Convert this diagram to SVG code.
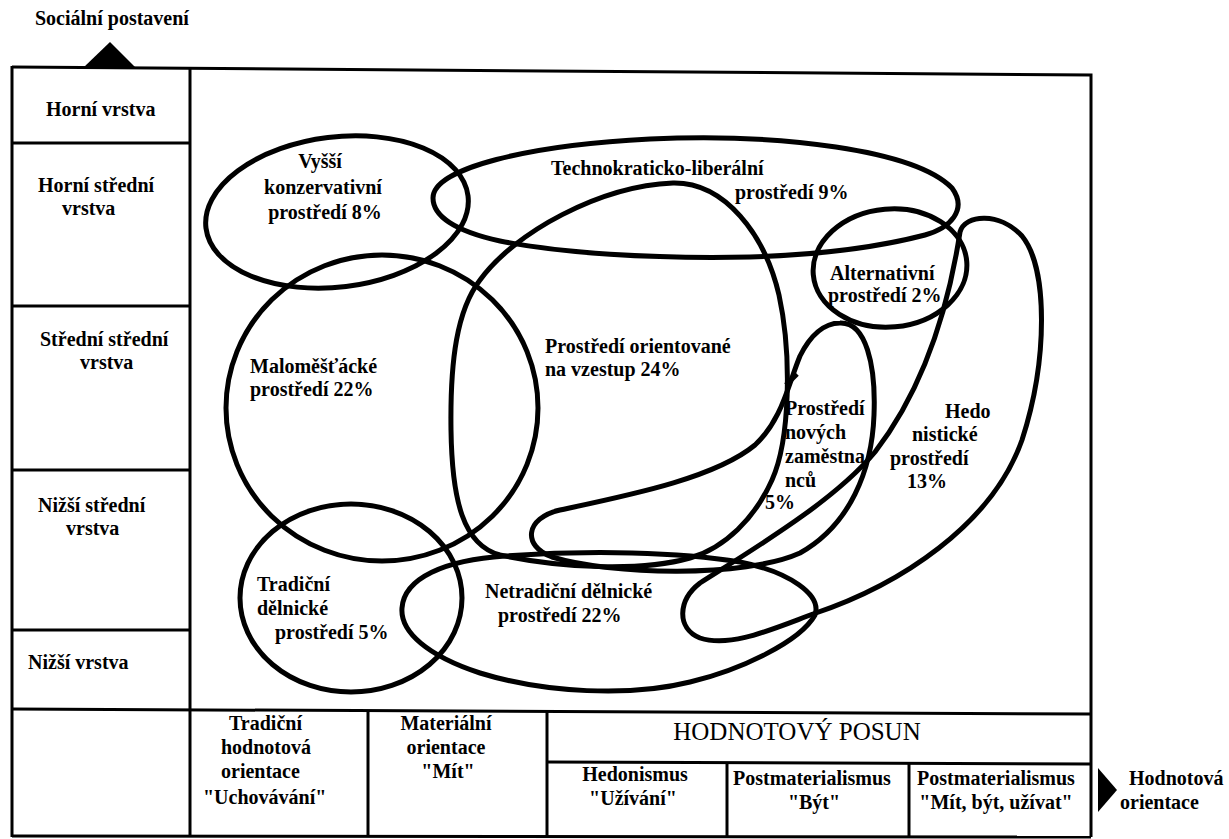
<svg xmlns="http://www.w3.org/2000/svg" width="1229" height="839" viewBox="0 0 1229 839">
<style>
.t{font-family:'Liberation Serif','DejaVu Serif',serif;font-weight:bold;font-size:20px;fill:#000}
.r{font-family:'Liberation Serif','DejaVu Serif',serif;font-size:25px;fill:#000}
.m{text-anchor:middle}
.ln{stroke:#000;stroke-width:3;fill:none}
.blob{stroke:#000;stroke-width:5;fill:none;stroke-linejoin:round}
</style>
<rect width="1229" height="839" fill="#fff"/>

<g id="frame" class="ln">
  <polyline points="12,67 1091,75 1091,837"/>
  <line x1="12" y1="66" x2="12" y2="837"/>
  <line x1="190" y1="68" x2="190" y2="837"/>
  <line x1="12" y1="143" x2="190" y2="143"/>
  <line x1="12" y1="306" x2="190" y2="306"/>
  <line x1="12" y1="470" x2="190" y2="470"/>
  <line x1="12" y1="630" x2="190" y2="630"/>
  <line x1="12" y1="709" x2="1091" y2="714"/>
  <line x1="12" y1="836" x2="1091" y2="837"/>
  <line x1="368" y1="711" x2="368" y2="837"/>
  <line x1="547" y1="712" x2="547" y2="837"/>
  <line x1="547" y1="762" x2="1091" y2="764"/>
  <line x1="727" y1="763" x2="727" y2="837"/>
  <line x1="909" y1="763" x2="909" y2="837"/>
</g>

<g id="axes">
  <polygon points="84,67 110,42 135,67" fill="#000"/>
  <polygon points="1098,768 1117,790 1098,812" fill="#000"/>
  <text class="t" x="35" y="25">Sociální postavení</text>
  <text class="t" x="1129" y="785">Hodnotová</text>
  <text class="t" x="1120" y="809">orientace</text>
</g>

<g id="rows">
  <g id="row-horni"><text class="t" x="46" y="116">Horní vrstva</text></g>
  <g id="row-horni-stredni"><text class="t" x="38" y="192">Horní střední</text><text class="t" x="62" y="215">vrstva</text></g>
  <g id="row-stredni-stredni"><text class="t" x="40" y="346">Střední střední</text><text class="t" x="80" y="369">vrstva</text></g>
  <g id="row-nizsi-stredni"><text class="t" x="38" y="512">Nižší střední</text><text class="t" x="66" y="535">vrstva</text></g>
  <g id="row-nizsi"><text class="t" x="28" y="669">Nižší vrstva</text></g>
</g>

<g id="values">
  <g id="val-tradicni">
    <text class="t" x="229" y="730">Tradiční</text>
    <text class="t" x="221" y="754">hodnotová</text>
    <text class="t" x="221" y="778">orientace</text>
    <text class="t" x="203" y="804">"Uchovávání"</text>
  </g>
  <g id="val-materialni">
    <text class="t m" x="446" y="730">Materiální</text>
    <text class="t m" x="446" y="754">orientace</text>
    <text class="t m" x="448" y="778">"Mít"</text>
  </g>
  <g id="val-posun"><text class="r m" x="797" y="740">HODNOTOVÝ POSUN</text></g>
  <g id="val-hedonismus">
    <text class="t m" x="635" y="781">Hedonismus</text>
    <text class="t m" x="633" y="805">"Užívání"</text>
  </g>
  <g id="val-byt">
    <text class="t m" x="812" y="785">Postmaterialismus</text>
    <text class="t m" x="814" y="809">"Být"</text>
  </g>
  <g id="val-mit-byt">
    <text class="t m" x="996" y="785">Postmaterialismus</text>
    <text class="t m" x="996" y="809">"Mít, být, užívat"</text>
  </g>
</g>

<g id="milieus">
  <g id="vyssi-konzervativni">
    <ellipse class="blob" cx="337" cy="212" rx="132" ry="75" transform="rotate(-7 337 212)"/>
    <text class="t m" x="320" y="168">Vyšší</text>
    <text class="t m" x="323" y="194">konzervativní</text>
    <text class="t m" x="325" y="219">prostředí 8%</text>
  </g>
  <g id="technokraticko-liberalni">
    <path class="blob" d="M433,198 C433,168 530,145 650,139 C780,133 915,150 952,188 C968,210 950,228 925,235 C875,248 815,255 750,257 C650,259 560,253 500,241 C455,231 433,216 433,198 Z"/>
    <text class="t" x="551" y="175">Technokraticko-liberální</text>
    <text class="t" x="735" y="199">prostředí 9%</text>
  </g>
  <g id="alternativni">
    <ellipse class="blob" cx="890" cy="268" rx="77" ry="59" transform="rotate(-5 890 268)"/>
    <text class="t" x="830" y="280">Alternativní</text>
    <text class="t" x="828" y="302">prostředí 2%</text>
  </g>
  <g id="malomestacke">
    <ellipse class="blob" cx="382" cy="408" rx="156" ry="153"/>
    <text class="t" x="250" y="373">Maloměšťácké</text>
    <text class="t" x="250" y="396">prostředí 22%</text>
  </g>
  <g id="orientovane-na-vzestup">
    <path class="blob" d="M480,280 C515,232 600,186 673,183 C725,182 765,235 779,295 C792,355 790,440 772,480 C755,518 725,548 690,558 C640,572 560,568 500,555 C463,545 452,500 451,430 C450,360 457,310 480,280 Z"/>
    <text class="t" x="545" y="353">Prostředí orientované</text>
    <text class="t" x="545" y="376">na vzestup  24%</text>
  </g>
  <g id="novych-zamestnancu">
    <path class="blob" d="M840,323 C866,322 876,365 874,415 C872,470 850,525 800,553 C745,578 610,575 552,557 C522,546 525,518 560,510 C630,495 715,478 755,445 C782,420 788,385 800,356 C810,336 824,323 840,323 Z"/>
    <path class="blob" d="M786,385 L797,374" stroke-width="4"/>
    <text class="t" x="785" y="415">Prostředí</text>
    <text class="t" x="785" y="439">nových</text>
    <text class="t" x="785" y="463">zaměstna</text>
    <text class="t" x="785" y="487">nců</text>
    <text class="t" x="765" y="509">5%</text>
  </g>
  <g id="hedonisticke">
    <path class="blob" d="M960,232 C965,214 1000,212 1022,236 C1048,268 1048,360 1022,440 C992,525 900,585 813,614 C770,630 730,648 700,638 C676,628 678,600 700,583 C760,545 835,500 875,452 C915,400 945,330 960,232 Z"/>
    <text class="t" x="945" y="418">Hedo</text>
    <text class="t" x="912" y="441">nistické</text>
    <text class="t" x="890" y="465">prostředí</text>
    <text class="t" x="907" y="488">13%</text>
  </g>
  <g id="tradicni-delnicke">
    <ellipse class="blob" cx="351" cy="598" rx="111" ry="94"/>
    <text class="t" x="257" y="591">Tradiční</text>
    <text class="t" x="257" y="615">dělnické</text>
    <text class="t" x="275" y="639">prostředí 5%</text>
  </g>
  <g id="netradicni-delnicke">
    <path class="blob" d="M402,608 C404,578 445,560 505,556 C590,550 680,552 740,562 C790,572 822,595 815,615 C800,642 740,670 690,682 C630,697 545,693 480,673 C428,656 400,632 402,608 Z"/>
    <text class="t" x="485" y="598">Netradiční dělnické</text>
    <text class="t" x="498" y="622">prostředí 22%</text>
  </g>
</g>
</svg>
